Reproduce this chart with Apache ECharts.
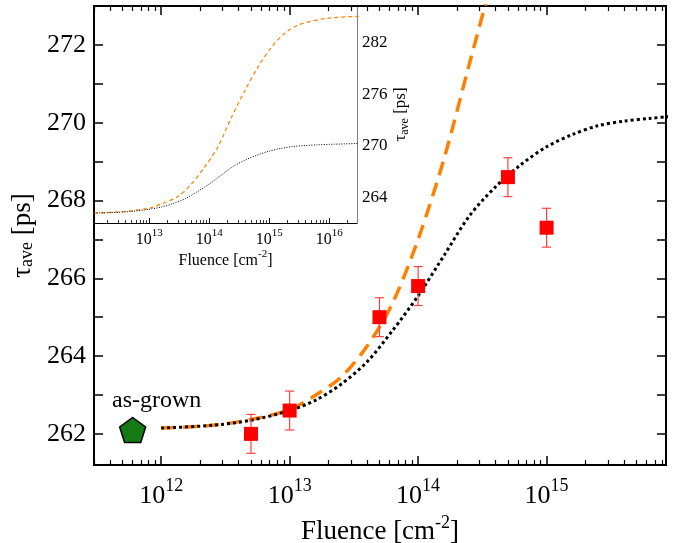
<!doctype html>
<html>
<head>
<meta charset="utf-8">
<title>tau ave vs fluence</title>
<script src="https://cdn.jsdelivr.net/npm/echarts@6/dist/echarts.min.js"></script>
<style>
html, body { margin: 0; padding: 0; background: #fff; }
#main { width: 677px; height: 543px; }
</style>
</head>
<body>
<div id="main"></div>
<script>
// measured points
var fluence = [5e12, 1e13, 5e13, 1e14, 5e14, 1e15];
var tauAve = [262.0, 262.6, 265.0, 265.8, 268.6, 267.3];
var tauErr = [0.5, 0.5, 0.5, 0.5, 0.5, 0.5];
var asGrown = [6e11, 262.1];

// model curves, main panel (dotted one is also drawn in the inset)
var dotX = [1e12, 2.5e12, 5e12, 1e13, 1.6e13, 2.5e13, 4e13, 6.3e13, 1e14, 1.6e14, 2.5e14, 4e14, 6.3e14, 1e15, 1.6e15, 2.5e15, 4e15, 6.3e15, 1e16, 3e16];
var dotY = [262.15, 262.22, 262.35, 262.6, 262.87, 263.27, 263.85, 264.65, 265.55, 266.6, 267.6, 268.35, 268.92, 269.38, 269.7, 269.92, 270.04, 270.11, 270.17, 270.27];
var dashX = [1e12, 2.5e12, 5e12, 1e13, 1.6e13, 2.5e13, 4e13, 6.3e13, 1e14, 1.6e14, 2.5e14, 4e14];
var dashY = [262.15, 262.22, 262.37, 262.62, 263.0, 263.45, 264.25, 265.35, 267.0, 269.1, 271.5, 274.0];

// inset dashed curve
var insetDashX = [1.2e12, 3.7e12, 1e13, 1.7e13, 3e13, 4.9e13, 8.1e13, 1.4e14, 2.3e14, 3.9e14, 6.5e14, 1.1e15, 1.8e15, 3.1e15, 8.7e15, 3.1e16];
var insetDashY = [262.15, 262.34, 262.73, 263.31, 264.08, 265.45, 267.39, 269.9, 273.2, 276.4, 279.2, 281.55, 283.1, 284.1, 284.85, 285.1];

// ticks
var mainXMajor = [1e12, 1e13, 1e14, 1e15];
var insetXMajor = [1e13, 1e14, 1e15, 1e16];
var mainYTicks = [262, 263, 264, 265, 266, 267, 268, 269, 270, 271, 272];
var mainYLabels = [262, 264, 266, 268, 270, 272];
var insetYLabels = [264, 270, 276, 282];

function minorTicks(e0, e1) {
    var out = [];
    for (var e = e0; e <= e1; e++) {
        for (var k = 2; k <= 9; k++) out.push(k * Math.pow(10, e));
    }
    return out;
}

function pairs(xs, ys) {
    return xs.map(function (x, i) { return [x, ys[i]]; });
}

var serif = 'Liberation Serif';
var tickRich = {
    b: { fontFamily: serif, fontSize: 26, color: '#000', lineHeight: 32, verticalAlign: 'bottom' },
    s: { fontFamily: serif, fontSize: 18, color: '#000', lineHeight: 18, verticalAlign: 'top' }
};
var nameRich = {
    b: { fontFamily: serif, fontSize: 27, color: '#000', lineHeight: 32, verticalAlign: 'bottom' },
    s: { fontFamily: serif, fontSize: 18, color: '#000', lineHeight: 18, verticalAlign: 'top' }
};
var smallRich = {
    b: { fontFamily: serif, fontSize: 16, color: '#000', lineHeight: 20, verticalAlign: 'bottom' },
    s: { fontFamily: serif, fontSize: 11, color: '#000', lineHeight: 11, verticalAlign: 'top' }
};
var bigSub = {
    b: { fontFamily: serif, fontSize: 27, color: '#000', lineHeight: 27, verticalAlign: 'top' },
    u: { fontFamily: serif, fontSize: 18, color: '#000', lineHeight: 18, padding: [11, 0, 0, 0], verticalAlign: 'bottom' }
};
var smallSub = {
    b: { fontFamily: serif, fontSize: 17, color: '#000', lineHeight: 18, verticalAlign: 'top' },
    u: { fontFamily: serif, fontSize: 12, color: '#000', lineHeight: 12, padding: [7, 0, 0, 0], verticalAlign: 'bottom' }
};

function powLabel(v) {
    return '{b|10}{s|' + Math.round(Math.log10(v)) + '}';
}

var mainMin = 3e11, mainMax = 8.5e15;
var insetMin = 1.2e12, insetMax = 2.9e16;

function logAxis(opt) {
    var base = {
        type: 'log',
        splitLine: { show: false },
        axisLine: { show: false },
        axisTick: { show: true, inside: true, length: 9, lineStyle: { color: '#000', width: 1.5 } },
        axisLabel: { show: false }
    };
    return Object.assign(base, opt);
}

var myChart = echarts.init(document.getElementById('main'));

myChart.setOption({
    animation: false,
    backgroundColor: '#fff',
    grid: [
        { left: 94, top: 6, right: 11, bottom: 78, outerBoundsMode: 'none', containLabel: false },
        { left: 94, top: 6, width: 263, height: 217, outerBoundsMode: 'none', containLabel: false }
    ],
    xAxis: [
        logAxis({
            gridIndex: 0, position: 'bottom', min: mainMin, max: mainMax,
            axisLine: { show: true, lineStyle: { color: '#000', width: 2 } },
            axisTick: { show: true, inside: true, length: 9, customValues: mainXMajor, lineStyle: { color: '#000', width: 1.5 } },
            axisLabel: { show: true, customValues: mainXMajor, margin: 12, formatter: powLabel, rich: tickRich },
            name: '{b|Fluence [cm}{s|-2}{b|]}',
            nameLocation: 'middle', nameGap: 40,
            nameTextStyle: { rich: nameRich }
        }),
        logAxis({
            gridIndex: 0, position: 'bottom', min: mainMin, max: mainMax,
            axisTick: { show: true, inside: true, length: 5, customValues: minorTicks(11, 15), lineStyle: { color: '#000', width: 1.2 } }
        }),
        logAxis({
            gridIndex: 0, position: 'top', min: mainMin, max: mainMax,
            axisLine: { show: true, lineStyle: { color: '#000', width: 2 } },
            axisTick: { show: true, inside: true, length: 9, customValues: mainXMajor, lineStyle: { color: '#000', width: 1.5 } }
        }),
        logAxis({
            gridIndex: 0, position: 'top', min: mainMin, max: mainMax,
            axisTick: { show: true, inside: true, length: 5, customValues: minorTicks(11, 15), lineStyle: { color: '#000', width: 1.2 } }
        }),
        logAxis({
            gridIndex: 1, position: 'bottom', min: insetMin, max: insetMax,
            axisLine: { show: true, lineStyle: { color: '#000', width: 1 } },
            axisTick: { show: true, inside: true, length: 5, customValues: insetXMajor, lineStyle: { color: '#000', width: 1 } },
            axisLabel: { show: true, customValues: insetXMajor, margin: 5, formatter: powLabel, rich: smallRich },
            name: '{b|Fluence [cm}{s|-2}{b|]}',
            nameLocation: 'middle', nameGap: 24,
            nameTextStyle: { rich: smallRich }
        }),
        logAxis({
            gridIndex: 1, position: 'bottom', min: insetMin, max: insetMax,
            axisTick: { show: true, inside: true, length: 3, customValues: minorTicks(12, 16), lineStyle: { color: '#000', width: 0.8 } }
        })
    ],
    yAxis: [
        {
            type: 'value', gridIndex: 0, position: 'left', min: 261.2, max: 273,
            splitLine: { show: false },
            axisLine: { show: true, lineStyle: { color: '#000', width: 2 } },
            axisTick: { show: true, inside: true, length: 9, customValues: mainYTicks, lineStyle: { color: '#000', width: 1.5 } },
            axisLabel: { customValues: mainYLabels, margin: 8, fontFamily: serif, fontSize: 26, color: '#000' },
            name: '{b|τ}{u|ave}{b| [ps]}',
            nameLocation: 'middle', nameRotate: 90, nameGap: 52,
            nameTextStyle: { rich: bigSub }
        },
        {
            type: 'value', gridIndex: 0, position: 'right', min: 261.2, max: 273,
            splitLine: { show: false },
            axisLine: { show: true, lineStyle: { color: '#000', width: 2 } },
            axisTick: { show: true, inside: true, length: 9, customValues: mainYTicks, lineStyle: { color: '#000', width: 1.5 } },
            axisLabel: { show: false }
        },
        {
            type: 'value', gridIndex: 1, position: 'right', min: 261, max: 286.3,
            splitLine: { show: false },
            axisLine: { show: true, lineStyle: { color: '#808080', width: 1 } },
            axisTick: { show: false },
            axisLabel: { customValues: insetYLabels, margin: 5, fontFamily: serif, fontSize: 17, color: '#000' },
            name: '{b|τ}{u|ave}{b| [ps]}',
            nameLocation: 'middle', nameRotate: 90, nameGap: 32,
            nameTextStyle: { rich: smallSub }
        }
    ],
    series: [
        {
            type: 'line', xAxisIndex: 0, yAxisIndex: 0,
            data: pairs(dashX, dashY),
            showSymbol: false, smooth: 0.3, clip: true, z: 3,
            lineStyle: { color: '#ff8000', width: 3.5, type: [14, 8] }
        },
        {
            type: 'line', xAxisIndex: 0, yAxisIndex: 0,
            data: pairs(dotX, dotY),
            showSymbol: false, smooth: 0.3, clip: true, z: 4,
            lineStyle: { color: '#000', width: 3, type: [3, 3] }
        },
        {
            type: 'custom', xAxisIndex: 0, yAxisIndex: 0, z: 5,
            data: fluence.map(function (x, i) { return [x, tauAve[i] - tauErr[i], tauAve[i] + tauErr[i]]; }),
            encode: { x: 0, y: [1, 2] },
            renderItem: function (params, api) {
                var lo = api.coord([api.value(0), api.value(1)]);
                var hi = api.coord([api.value(0), api.value(2)]);
                var hw = 4.5;
                var st = { stroke: '#ff4040', lineWidth: 1.2 };
                return {
                    type: 'group',
                    children: [
                        { type: 'line', shape: { x1: lo[0], y1: lo[1], x2: hi[0], y2: hi[1] }, style: st },
                        { type: 'line', shape: { x1: lo[0] - hw, y1: lo[1], x2: lo[0] + hw, y2: lo[1] }, style: st },
                        { type: 'line', shape: { x1: hi[0] - hw, y1: hi[1], x2: hi[0] + hw, y2: hi[1] }, style: st }
                    ]
                };
            }
        },
        {
            type: 'scatter', xAxisIndex: 0, yAxisIndex: 0, z: 6,
            data: pairs(fluence, tauAve),
            symbol: 'rect', symbolSize: 14,
            itemStyle: { color: '#ff0000', opacity: 1 }
        },
        {
            type: 'scatter', xAxisIndex: 0, yAxisIndex: 0, z: 6,
            data: [asGrown],
            symbol: 'path://M50,0 L100,36 L81,95 L19,95 L0,36 Z',
            symbolSize: [26, 25],
            itemStyle: { color: '#157a15', borderColor: '#000', borderWidth: 1.5, opacity: 1 },
            label: {
                show: true, position: 'top', distance: 4, offset: [24, 0],
                formatter: 'as-grown', fontFamily: serif, fontSize: 24, color: '#000'
            }
        },
        {
            type: 'line', xAxisIndex: 4, yAxisIndex: 2,
            data: pairs(insetDashX, insetDashY),
            showSymbol: false, smooth: 0.3, clip: true,
            lineStyle: { color: '#ff8000', width: 1.2, type: [4, 3] }
        },
        {
            type: 'line', xAxisIndex: 4, yAxisIndex: 2,
            data: pairs(dotX, dotY),
            showSymbol: false, smooth: 0.3, clip: true,
            lineStyle: { color: '#000', width: 1, type: [1, 1.5] }
        }
    ]
});
</script>
</body>
</html>
